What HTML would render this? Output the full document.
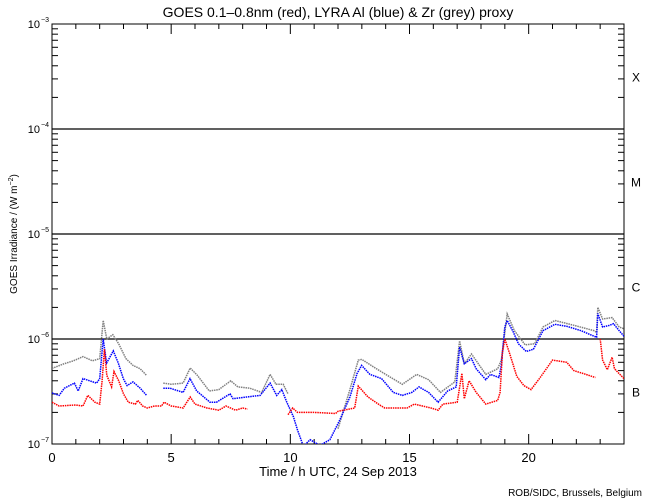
<!DOCTYPE html>
<html><head><meta charset="utf-8"><style>
body{margin:0;background:#fff}
svg{display:block;font-family:"Liberation Sans",sans-serif}
</style></head><body>
<svg id="chart" width="650" height="500" viewBox="0 0 650 500" xmlns="http://www.w3.org/2000/svg">
<defs><clipPath id="plotclip"><rect x="52" y="24" width="572" height="420"/></clipPath></defs>
<text x="338" y="17" font-size="14" text-anchor="middle">GOES 0.1–0.8nm (red), LYRA Al (blue) &amp; Zr (grey) proxy</text>
<text transform="translate(17,234) rotate(-90)" font-size="10" text-anchor="middle">GOES Irradiance / (W m<tspan font-size="7" dy="-4">−2</tspan><tspan dy="4">)</tspan></text>
<text x="338" y="476" font-size="13" text-anchor="middle">Time / h UTC, 24 Sep 2013</text>
<text x="642" y="496" font-size="10" text-anchor="end">ROB/SIDC, Brussels, Belgium</text>
<g id="axes"></g>
<g id="series" clip-path="url(#plotclip)"></g>
</svg>
<script>
const redT=[0,0.3,1,1.3,1.5,1.8,2.0,2.1,2.2,2.3,2.5,2.6,2.8,3.0,3.2,3.5,3.6,3.8,4.0,4.3,4.6,4.7,5.0,5.5,5.8,6.0,6.5,7.0,7.3,7.7,8.0,8.2,null,9.9,10.1,10.3,11,11.9,12.0,12.7,12.85,13.26,13.75,13.96,14.9,15.2,15.9,16.2,16.4,17.0,17.2,17.3,17.5,17.8,18.2,18.7,18.8,18.9,19.0,19.2,19.5,19.8,20.1,20.45,21.0,21.6,21.9,22.4,22.8,null,23.0,23.1,23.3,23.5,23.6,24.0];
const redV=[2.5e-7,2.3e-7,2.35e-7,2.3e-7,2.9e-7,2.5e-7,2.4e-7,4e-7,8e-7,4.5e-7,3.5e-7,4.9e-7,4e-7,3e-7,2.5e-7,2.4e-7,2.6e-7,2.3e-7,2.2e-7,2.3e-7,2.3e-7,2.5e-7,2.3e-7,2.2e-7,2.8e-7,2.4e-7,2.2e-7,2.1e-7,2.3e-7,2.1e-7,2.2e-7,2.15e-7,null,1.9e-7,2.2e-7,2.0e-7,2.0e-7,1.95e-7,2.05e-7,2.2e-7,3.56e-7,2.8e-7,2.35e-7,2.2e-7,2.2e-7,2.4e-7,2.2e-7,2.1e-7,2.4e-7,2.5e-7,4.7e-7,2.7e-7,4e-7,3.1e-7,2.4e-7,2.6e-7,3.1e-7,7.4e-7,1.0e-6,7.3e-7,4.4e-7,3.6e-7,3.3e-7,4.2e-7,6.3e-7,6.0e-7,5.0e-7,4.6e-7,4.3e-7,null,1.0e-6,6.3e-7,5.1e-7,6.7e-7,5.2e-7,4.2e-7];
const blueT=[0,0.3,0.52,0.94,1.1,1.3,1.87,2.0,2.15,2.29,2.57,2.78,2.99,3.15,3.4,3.7,3.97,null,4.67,4.95,5.5,5.79,6.07,6.63,6.9,7.47,7.6,8.17,8.73,9.15,9.43,9.64,9.85,10.13,10.3,10.55,10.83,11.24,11.66,12.08,12.5,12.8,12.99,13.34,13.83,14.32,14.7,15.1,15.4,15.8,16.2,16.6,16.96,17.1,17.3,17.6,17.8,18.2,18.4,18.75,18.85,19.0,19.1,19.35,19.57,19.9,20.2,20.6,21.1,21.6,22.2,22.75,22.85,22.9,23.1,23.4,23.56,23.8,24.0];
const blueV=[3.06e-7,2.9e-7,3.4e-7,3.8e-7,3.2e-7,4.2e-7,3.8e-7,4.2e-7,1e-6,5.9e-7,7.7e-7,5.9e-7,4.2e-7,3.6e-7,3.9e-7,3.4e-7,2.9e-7,null,3.4e-7,3.4e-7,3.1e-7,4.2e-7,3.2e-7,2.5e-7,2.5e-7,3.0e-7,2.7e-7,2.8e-7,2.9e-7,3.8e-7,2.9e-7,3.3e-7,2.5e-7,1.82e-7,1.36e-7,0.95e-7,1.1e-7,0.97e-7,1.1e-7,1.7e-7,2.8e-7,4.7e-7,5.6e-7,4.6e-7,4.2e-7,3.1e-7,2.9e-7,3.1e-7,3.5e-7,3.1e-7,2.5e-7,3.2e-7,3.5e-7,8.4e-7,5.8e-7,6.5e-7,5.2e-7,4.1e-7,4.6e-7,4.3e-7,5.6e-7,1.3e-6,1.5e-6,1.17e-6,9.0e-7,7.6e-7,8.0e-7,1.2e-6,1.38e-6,1.32e-6,1.2e-6,1.06e-6,1.04e-6,1.75e-6,1.3e-6,1.35e-6,1.4e-6,1.2e-6,1.06e-6];
const greyT=[0,0.5,0.9,1.3,1.7,2.0,2.15,2.3,2.55,2.8,3.1,3.4,3.7,3.97,null,4.67,5.0,5.5,5.8,6.1,6.6,7.0,7.5,7.8,8.3,8.8,9.15,9.4,9.7,9.9,null,12.0,12.5,12.85,13.0,13.5,14.0,14.7,15.3,15.8,16.3,16.9,17.1,17.3,17.6,18.2,18.7,18.85,19.1,19.4,19.85,20.25,20.6,21.1,21.9,22.75,22.85,22.9,23.1,23.5,23.8,24.0];
const greyV=[5.25e-7,5.8e-7,6.2e-7,6.8e-7,6.2e-7,6.5e-7,1.5e-6,1.0e-6,1.1e-6,9e-7,6.5e-7,5.6e-7,5.2e-7,4.5e-7,null,3.8e-7,3.7e-7,3.8e-7,5.3e-7,4.5e-7,3.2e-7,3.3e-7,4.0e-7,3.5e-7,3.4e-7,3.1e-7,4.6e-7,3.7e-7,3.7e-7,3.0e-7,null,1.4e-7,3.3e-7,6.3e-7,6.4e-7,5.4e-7,4.6e-7,3.7e-7,4.6e-7,4.1e-7,3.1e-7,3.9e-7,9.6e-7,5.8e-7,7.2e-7,4.6e-7,5.2e-7,6.3e-7,1.73e-6,1.2e-6,8.8e-7,9.0e-7,1.3e-6,1.5e-6,1.35e-6,1.2e-6,1.15e-6,2.0e-6,1.55e-6,1.6e-6,1.3e-6,1.25e-6];
const xTicks=[0,5,10,15,20];
const yDecades=[-7,-6,-5,-4,-3];
const classLabels=["B","C","M","X"];

const NS="http://www.w3.org/2000/svg";
const L=52,R=624,T=24,B=444;
const xs=h=>L+h*(R-L)/24;
const ys=v=>B-(Math.log10(v)+7)*(B-T)/4;
function mk(tag,attrs,parent){const e=document.createElementNS(NS,tag);for(const k in attrs)e.setAttribute(k,attrs[k]);parent.appendChild(e);return e;}
const ax=document.getElementById('axes');
const frame=mk('rect',{x:L,y:T,width:R-L,height:B-T,fill:'none',stroke:'#000','stroke-width':1},ax);


for(let h=0;h<=24;h++){
  const len=h%5===0?10:5,x=xs(h);
  const t1=mk('line',{x1:x,x2:x,y1:B,y2:B-len,stroke:'#000'},ax);
  
  
  const t2=mk('line',{x1:x,x2:x,y1:T,y2:T+len,stroke:'#000'},ax);
  
  
}
xTicks.forEach(h=>{
  const t=mk('text',{x:xs(h),y:462,'font-size':13,'text-anchor':'middle'},ax);t.textContent=h;
  
  
});
yDecades.forEach((d,i)=>{
  const y=ys(Math.pow(10,d));
  const t=mk('text',{x:40,y:y+4,'font-size':11,'text-anchor':'end'},ax);
  t.textContent='10';
  
  
  const s=mk('text',{x:41,y:y-2,'font-size':7},ax);s.textContent='−'+(-d);
  
  
  if(d>-7&&d<-3){
    const g=mk('line',{x1:L,x2:R,y1:y,y2:y,stroke:'#000','stroke-width':1.2},ax);
    
    
  }
  if(d<-3){
    for(let m=2;m<=9;m++){
      const yy=ys(m*Math.pow(10,d));
      const a=mk('line',{x1:L,x2:L+6,y1:yy,y2:yy,stroke:'#000'},ax);
      
      
      const b=mk('line',{x1:R,x2:R-6,y1:yy,y2:yy,stroke:'#000'},ax);
      
      
    }
    const lbl=mk('text',{x:636,y:ys(Math.pow(10,d+0.5))+5,'font-size':12,'text-anchor':'middle'},ax);
    lbl.textContent=classLabels[i];
    
    
  }
});
const sg=document.getElementById('series');
function drawSeries(T_,V_,color,name){
  let d='',pen=false;
  for(let i=0;i<T_.length;i++){
    if(T_[i]===null||V_[i]===null){pen=false;continue;}
    d+=(pen?'L':'M')+xs(T_[i]).toFixed(1)+' '+ys(V_[i]).toFixed(1)+' ';pen=true;
  }
  const p=mk('path',{d:d,fill:'none',stroke:color,'stroke-width':1.5,'stroke-dasharray':'1.5 0.8'},sg);
  
  
}
drawSeries(greyT,greyV,'#808080','lyra-zr-series');
drawSeries(blueT,blueV,'#0000ff','lyra-al-series');
drawSeries(redT,redV,'#ff0000','goes-series');
</script>
</body></html>
